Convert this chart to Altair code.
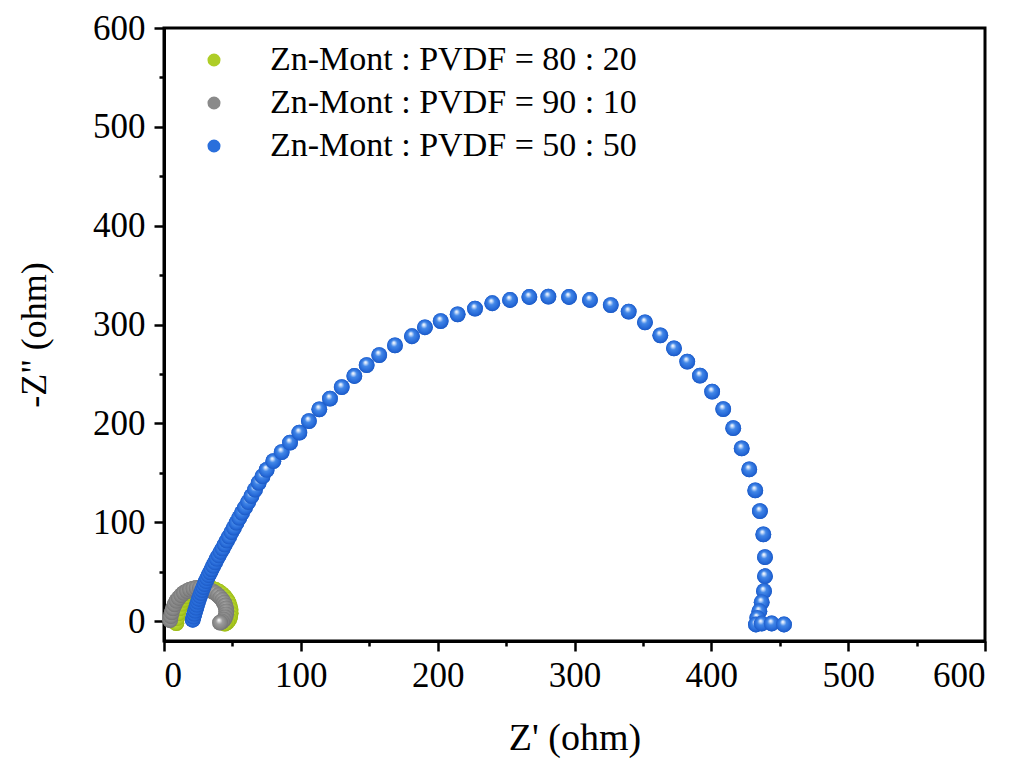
import altair as alt
import pandas as pd

# Nyquist data: Z' (real part) and -Z'' (imaginary part), in ohm
series_names = [
    "Zn-Mont : PVDF = 80 : 20",
    "Zn-Mont : PVDF = 90 : 10",
    "Zn-Mont : PVDF = 50 : 50",
]

green_x = [9.0, 9.5, 10.3, 11.4, 12.8, 14.5, 16.5, 18.8, 21.3, 24.0, 26.8, 29.6, 32.4,
           35.2, 37.8, 40.2, 42.4, 44.3, 45.9, 47.2, 48.1, 48.6, 48.7, 48.3, 47.5, 46.2, 44.5]
green_y = [-2.0, 3.0, 8.0, 13.0, 17.5, 21.5, 25.0, 28.0, 30.5, 32.3, 33.5, 34.0, 33.8,
           33.0, 31.6, 29.8, 27.5, 24.8, 21.8, 18.5, 15.0, 11.5, 8.0, 4.5, 1.5, -1.0, -2.5]

gray_x = [4.5, 5.0, 5.7, 6.6, 7.8, 9.2, 10.8, 12.6, 14.6, 16.8, 19.0, 21.4, 23.8, 26.2,
          28.6, 31.0, 33.3, 35.5, 37.6, 39.5, 41.2, 42.7, 43.9, 44.8, 45.4, 45.6, 45.4,
          44.8, 43.8, 42.4, 41.0]
gray_y = [1.0, 5.0, 9.0, 13.0, 17.0, 20.5, 23.5, 26.3, 28.6, 30.5, 32.0, 33.0, 33.6, 33.8,
          33.5, 32.8, 31.7, 30.2, 28.4, 26.3, 24.0, 21.5, 18.8, 16.0, 13.0, 10.0, 7.0,
          4.0, 1.5, -0.5, -1.5]

blue_x = [21.0, 21.6, 22.2, 22.8, 23.5, 24.1, 24.8, 25.5, 26.3, 27.1, 27.9, 28.8, 29.7,
          30.7, 31.6, 32.6, 33.7, 34.8, 36.0, 37.3, 38.6, 40.0, 41.4, 42.9, 44.4, 46.0,
          47.6, 49.3, 51.1, 53.0, 55.0, 57.0, 59.2, 61.5, 63.9, 66.5, 69.2, 72.0, 75.0,
          79.9, 86.0, 92.1, 98.9, 105.9, 113.5, 121.3, 129.9, 139.1, 148.1, 157.3, 168.8,
          181.2, 190.7, 202.2, 214.6, 227.3, 239.9, 252.9, 267.0, 280.9, 296.0, 311.3,
          326.5, 339.6, 351.5, 362.7, 372.7, 382.4, 391.7, 400.6, 408.7, 416.0, 422.2,
          427.7, 432.1, 435.5, 438.0, 439.2, 439.2, 438.5, 436.8, 435.1, 433.6, 432.6,
          436.8, 444.1, 453.1]
blue_y = [1.5, 4.5, 7.5, 10.5, 13.5, 16.5, 19.5, 22.5, 25.5, 28.5, 31.5, 34.5, 37.5,
          40.5, 43.5, 46.5, 49.5, 52.5, 56.0, 59.5, 63.0, 66.5, 70.0, 73.5, 77.5, 81.5,
          85.5, 90.0, 94.5, 99.5, 104.5, 109.5, 115.0, 120.5, 126.5, 133.0, 140.0, 146.5,
          153.0, 161.9, 171.1, 180.6, 190.7, 202.4, 214.3, 225.1, 236.8, 248.0, 259.1,
          269.2, 279.0, 288.2, 297.3, 303.6, 310.4, 316.2, 321.6, 324.9, 327.9, 328.3,
          327.9, 324.9, 319.8, 313.2, 302.3, 289.2, 276.0, 262.6, 248.4, 232.2, 214.6,
          195.3, 174.8, 153.5, 132.3, 111.3, 87.8, 64.8, 45.5, 30.4, 19.2, 10.1, 3.4,
          -3.3, -2.3, -2.3, -3.3]

tick_values = list(range(0, 601, 50))

# flat colours (legend) and shaded-sphere stops per series
flat_colors = ["#aecd27", "#8a8a8a", "#2a6fdc"]
sphere_stops = [
    ["#ffffff", "#eef7bf", "#bfdc3c", "#a9c91f", "#90ae12"],
    ["#ffffff", "#e2e2e2", "#9c9c9c", "#828282", "#6a6a6a"],
    ["#ffffff", "#d5e5fb", "#4287e8", "#2467d6", "#1852b8"],
]
stop_offsets = [0.0, 0.12, 0.38, 0.78, 1.0]

frames = []
for name, xs, ys in zip(series_names, [green_x, gray_x, blue_x], [green_y, gray_y, blue_y]):
    frames.append(pd.DataFrame({"series": name, "zr": xs, "zi": ys}))
df = pd.concat(frames, ignore_index=True)

serif = "Liberation Serif"
BALL = 250

x_enc = alt.X(
    "zr:Q",
    title="Z' (ohm)",
    scale=alt.Scale(domain=[0, 600], nice=False, zero=False),
    axis=alt.Axis(
        values=tick_values,
        labelExpr="datum.value % 100 === 0 ? datum.label : ''",
        tickSize={"condition": {"test": "datum.value % 100 === 0", "value": 10}, "value": 5},
        labelFontSize=35,
        labelPadding=7,
        titleFontSize=38,
        titlePadding=26,
    ),
)
y_enc = alt.Y(
    "zi:Q",
    title='-Z" (ohm)',
    scale=alt.Scale(domain=[-20, 600], nice=False, zero=False),
    axis=alt.Axis(
        values=tick_values,
        labelExpr="datum.value % 100 === 0 ? datum.label : ''",
        tickSize={"condition": {"test": "datum.value % 100 === 0", "value": 10}, "value": 5},
        labelFontSize=35,
        labelPadding=9,
        titleFontSize=36,
        titlePadding=39,
    ),
)

base = alt.Chart(df)

# flat-coloured layer that carries the legend (covered by the shaded balls)
legend_layer = base.mark_circle(size=BALL, opacity=1).encode(
    x=x_enc,
    y=y_enc,
    color=alt.Color(
        "series:N",
        scale=alt.Scale(domain=series_names, range=flat_colors),
        legend=alt.Legend(
            title=None,
            orient="none",
            legendX=33,
            legendY=15,
            padding=0,
            labelFont=serif,
            labelFontSize=34,
            labelColor="black",
            labelLimit=700,
            labelOffset=39,
            symbolType="circle",
            symbolSize=170,
            symbolStrokeWidth=0,
            symbolOpacity=1,
            rowPadding=9,
        ),
    ),
)

ball_layers = []
for name, colors in zip(series_names, sphere_stops):
    gradient = {
        "gradient": "radial",
        "x1": 0.42, "y1": 0.32, "r1": 0.0,
        "x2": 0.5, "y2": 0.5, "r2": 0.55,
        "stops": [{"offset": o, "color": c} for o, c in zip(stop_offsets, colors)],
    }
    ball_layers.append(
        base.transform_filter(alt.datum.series == name)
        .mark_circle(size=BALL, opacity=1, fill=gradient, strokeWidth=0)
        .encode(x=x_enc, y=y_enc)
    )

chart = (
    alt.layer(legend_layer, *ball_layers)
    .properties(
        width=821,
        height=613,
        autosize=alt.AutoSizeParams(type="none"),
        padding={"left": 164, "top": 28, "right": 35, "bottom": 120},
        background="white",
    )
    .configure_view(stroke="black", strokeWidth=3)
    .configure_axis(
        grid=False,
        domainColor="black",
        domainWidth=3,
        tickColor="black",
        tickWidth=2.5,
        labelColor="black",
        titleColor="black",
        labelFont=serif,
        titleFont=serif,
        titleFontWeight="normal",
    )
)

chart.save("out.html", embed_options={"renderer": "svg", "actions": False})
